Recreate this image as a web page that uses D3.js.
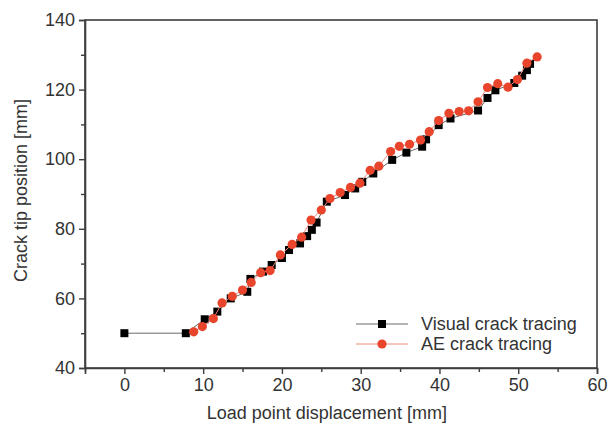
<!DOCTYPE html>
<html>
<head>
<meta charset="utf-8">
<script src="https://cdn.jsdelivr.net/npm/d3@7"></script>
<style>
  html, body { margin: 0; padding: 0; background: #fff; }
  svg { display: block; }
  text { font-family: "Liberation Sans", Arial, Helvetica, sans-serif; fill: #333; }
</style>
</head>
<body>
<svg id="chart" width="610" height="430"></svg>
<script>
// Visual crack tracing: load point displacement [mm] vs crack tip position [mm]
const visualX = [0, 7.8, 10.2, 11.8, 13.5, 15.6, 16.0, 17.6, 18.7, 20.0, 20.9, 22.3, 23.2, 23.8, 24.4,
                 25.7, 28.0, 29.3, 30.2, 31.6, 34.0, 35.8, 37.8, 38.3, 39.9, 41.4, 44.9, 46.1,
                 47.1, 49.5, 50.5, 51.1, 51.5];
const visualY = [50, 50, 54.0, 56.2, 60.0, 61.9, 65.6, 67.7, 69.6, 71.6, 73.9, 75.8, 77.9, 79.7, 81.8,
                 87.8, 89.7, 91.6, 93.5, 95.9, 99.8, 101.9, 103.6, 105.7, 109.8, 111.7, 114.0, 117.6,
                 119.8, 121.9, 124.0, 125.6, 127.4];

// AE crack tracing
const aeX = [8.8, 9.9, 11.3, 12.4, 13.7, 15.0, 16.1, 17.3, 18.5, 19.8, 21.3, 22.5, 23.7, 25.0,
             26.1, 27.4, 28.7, 29.9, 31.2, 32.3, 33.8, 34.9, 36.2, 37.6, 38.7, 39.9, 41.2,
             42.5, 43.7, 44.9, 46.1, 47.4, 48.7, 49.9, 51.1, 52.4];
const aeY = [50.4, 51.9, 54.2, 58.7, 60.6, 62.4, 64.6, 67.4, 68.0, 72.5, 75.5, 77.6, 82.5, 85.4,
             88.7, 90.4, 91.9, 93.1, 96.8, 98.0, 102.2, 103.7, 104.3, 105.5, 107.9, 111.1, 113.2,
             113.7, 113.9, 116.5, 120.6, 121.7, 120.7, 122.9, 127.6, 129.4];

const xTicks = [0, 10, 20, 30, 40, 50, 60];
const xMinor = [-5, 5, 15, 25, 35, 45, 55];
const yTicks = [40, 60, 80, 100, 120, 140];
const yMinor = [50, 70, 90, 110, 130];

const seriesNames = ["Visual crack tracing", "AE crack tracing"];
const AXIS = "#3d3d3d", BLACK_LINE = "#6a6a6a", RED = "#e8452c", RED_LINE = "#f0897a";
const FONT = "18px";

const svg = d3.select("#chart");
const m = { left: 85, right: 13, top: 20, bottom: 62 };
const W = 610, H = 430;

const x = d3.scaleLinear().domain([-5, 60]).range([m.left, W - m.right]);
const y = d3.scaleLinear().domain([40, 140]).range([H - m.bottom, m.top]);

// frame
svg.append("rect")
  .attr("x", x(-5)).attr("y", y(140))
  .attr("width", x(60) - x(-5)).attr("height", y(40) - y(140))
  .attr("fill", "none").attr("stroke", AXIS).attr("stroke-width", 1.6);

// bottom axis
svg.append("g").attr("transform", `translate(0,${y(40)})`)
  .call(d3.axisBottom(x).tickValues(xTicks).tickSize(6).tickPadding(4));
svg.append("g").attr("transform", `translate(0,${y(40)})`)
  .call(d3.axisBottom(x).tickValues(xMinor).tickSize(4).tickFormat(""))
  .call(g => g.select(".domain").remove());

// left axis
svg.append("g").attr("transform", `translate(${x(-5)},0)`)
  .call(d3.axisLeft(y).tickValues(yTicks).tickSize(6).tickPadding(4));
svg.append("g").attr("transform", `translate(${x(-5)},0)`)
  .call(d3.axisLeft(y).tickValues(yMinor).tickSize(4).tickFormat(""))
  .call(g => g.select(".domain").remove());

svg.selectAll(".domain").attr("stroke", AXIS).attr("stroke-width", 1.6);
svg.selectAll(".tick line").attr("stroke", AXIS).attr("stroke-width", 1.4);
svg.selectAll(".tick text").attr("fill", "#333").style("font-size", FONT)
  .style("font-family", '"Liberation Sans", Arial, sans-serif');

// axis titles
svg.append("text")
  .attr("x", x(25.7)).attr("y", 419)
  .attr("text-anchor", "middle").style("font-size", FONT)
  .text("Load point displacement [mm]");
svg.append("text")
  .attr("transform", `translate(27,${y(91)}) rotate(-90)`)
  .attr("text-anchor", "middle").style("font-size", FONT)
  .text("Crack tip position [mm]");

const visual = visualX.map((v, i) => [v, visualY[i]]);
const ae = aeX.map((v, i) => [v, aeY[i]]);
const line = d3.line().x(d => x(d[0])).y(d => y(d[1]));

// visual series: thin grey line with black squares
svg.append("path").datum(visual).attr("d", line)
  .attr("fill", "none").attr("stroke", BLACK_LINE).attr("stroke-width", 1);
const sq = 8;
svg.append("g").selectAll("rect").data(visual).join("rect")
  .attr("x", d => x(d[0]) - sq / 2).attr("y", d => y(d[1]) - sq / 2)
  .attr("width", sq).attr("height", sq).attr("fill", "#000");

// AE series: thin light red line with red circles
svg.append("path").datum(ae).attr("d", line)
  .attr("fill", "none").attr("stroke", RED_LINE).attr("stroke-width", 1);
svg.append("g").selectAll("circle").data(ae).join("circle")
  .attr("cx", d => x(d[0])).attr("cy", d => y(d[1])).attr("r", 4.6)
  .attr("fill", RED);

// legend
const lg = svg.append("g").attr("transform", "translate(356,324)");
lg.append("line").attr("x1", 0).attr("x2", 52).attr("y1", 0).attr("y2", 0)
  .attr("stroke", BLACK_LINE).attr("stroke-width", 1);
lg.append("rect").attr("x", 26 - sq / 2).attr("y", -sq / 2)
  .attr("width", sq).attr("height", sq).attr("fill", "#000");
lg.append("text").attr("x", 65).attr("y", 6).style("font-size", FONT).text(seriesNames[0]);
lg.append("line").attr("x1", 0).attr("x2", 52).attr("y1", 20).attr("y2", 20)
  .attr("stroke", RED_LINE).attr("stroke-width", 1);
lg.append("circle").attr("cx", 26).attr("cy", 20).attr("r", 4.6).attr("fill", RED);
lg.append("text").attr("x", 65).attr("y", 26).style("font-size", FONT).text(seriesNames[1]);
</script>
</body>
</html>
